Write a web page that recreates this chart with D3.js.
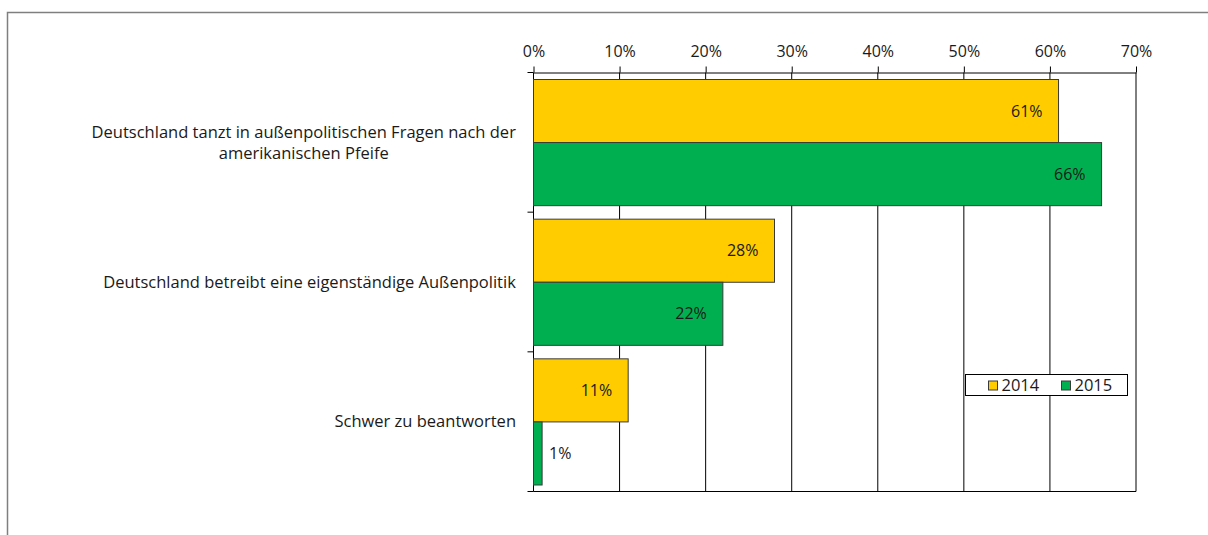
<!DOCTYPE html>
<html>
<head>
<meta charset="utf-8">
<script src="https://cdn.jsdelivr.net/npm/d3@7"></script>
<style>
  body { margin: 0; background: #fff; }
  svg { display: block; font-family: 'Open Sans', sans-serif; }
  text { fill: #1a1a1a; }
</style>
</head>
<body>
<svg id="chart"></svg>
<script>
const categories = [
  ['Deutschland tanzt in außenpolitischen Fragen nach der', 'amerikanischen Pfeife'],
  ['Deutschland betreibt eine eigenständige Außenpolitik'],
  ['Schwer zu beantworten']
]
const years = ['2014', '2015']
const values2014 = [61, 28, 11]
const values2015 = [66, 22, 1]
const ticks = [0, 10, 20, 30, 40, 50, 60, 70]
const colors = ['#ffcc00', '#00b050']

const width = 1208
const height = 535
const svg = d3.select('#chart').attr('width', width).attr('height', height)

// outer frame (only left and top show in the crop)
svg.append('path')
  .attr('d', `M7.5,${height} V12.5 H${width}`)
  .attr('fill', 'none')
  .attr('stroke', '#7f7f7f')
  .attr('stroke-width', 1.5)

const x = d3.scaleLinear().domain([0, 70]).range([533.5, 1136])
const y = d3.scaleBand().domain(d3.range(categories.length)).range([72.5, 491.5])

const rows = categories.map((c, i) => ({ label: c, vals: [values2014[i], values2015[i]] }))

// grid
svg.append('g').selectAll('line')
  .data(ticks.slice(1))
  .join('line')
  .attr('x1', d => x(d)).attr('x2', d => x(d))
  .attr('y1', y.range()[0]).attr('y2', y.range()[1])
  .attr('stroke', '#000').attr('stroke-width', 1)

// bottom line
svg.append('line')
  .attr('x1', x(0)).attr('x2', x(70))
  .attr('y1', y.range()[1]).attr('y2', y.range()[1])
  .attr('stroke', '#000')

// top axis
const xAxis = d3.axisTop(x).tickValues(ticks).tickFormat(d => d + '%').tickSize(6).tickSizeOuter(0)
const gx = svg.append('g').attr('transform', `translate(0,${y.range()[0]})`).call(xAxis)
gx.select('.domain').attr('stroke', '#000')
gx.selectAll('.tick line').attr('stroke', '#000')
gx.selectAll('.tick text')
  .attr('y', -16)
  .style('font-size', '16px')
  .style('font-family', "'Open Sans', sans-serif")
  .attr('fill', '#1a1a1a')

// left axis line + category ticks
svg.append('line')
  .attr('x1', x(0)).attr('x2', x(0))
  .attr('y1', y.range()[0]).attr('y2', y.range()[1])
  .attr('stroke', '#000')
svg.append('g').selectAll('line')
  .data(d3.range(categories.length + 1))
  .join('line')
  .attr('x1', x(0) - 6).attr('x2', x(0))
  .attr('y1', d => y.range()[0] + d * y.step())
  .attr('y2', d => y.range()[0] + d * y.step())
  .attr('stroke', '#000')

// bars
const inner = d3.scaleBand().domain([0, 1]).range([7, y.bandwidth() - 6.5])
const groups = svg.append('g').selectAll('g')
  .data(rows)
  .join('g')
  .attr('transform', (d, i) => `translate(0,${y(i)})`)

groups.selectAll('rect')
  .data(d => d.vals)
  .join('rect')
  .attr('x', x(0))
  .attr('y', (d, j) => inner(j))
  .attr('width', d => x(d) - x(0))
  .attr('height', inner.bandwidth())
  .attr('fill', (d, j) => colors[j])
  .attr('stroke', '#3a3a3a')
  .attr('stroke-width', 1)

groups.selectAll('text.val')
  .data(d => d.vals)
  .join('text')
  .attr('class', 'val')
  .attr('x', d => x(d) - x(0) > 40 ? x(d) - 16 : x(d) + 7)
  .attr('y', (d, j) => inner(j) + inner.bandwidth() / 2)
  .attr('dy', '0.35em')
  .attr('text-anchor', d => x(d) - x(0) > 40 ? 'end' : 'start')
  .style('font-size', '16px')
  .text(d => d + '%')

// category labels
groups.append('text')
  .attr('text-anchor', 'middle')
  .style('font-size', '16.5px')
  .each(function (d) {
    const t = d3.select(this)
    const n = d.label.length
    d.label.forEach((l, k) => {
      t.append('tspan')
        .attr('x', 0)
        .attr('y', y.bandwidth() / 2 + (k - (n - 1) / 2) * 21)
        .attr('dy', '0.35em')
        .text(l)
    })
  })
  .attr('transform', function () {
    const bb = this.getBBox()
    return `translate(${516 - bb.width / 2},0)`
  })

// legend
const lg = svg.append('g').attr('transform', 'translate(965.5,374.5)')
lg.append('rect').attr('width', 162).attr('height', 21).attr('fill', '#fff').attr('stroke', '#000')
const items = lg.selectAll('g').data(years).join('g')
  .attr('transform', (d, i) => `translate(${23 + i * 73},0)`)
items.append('rect')
  .attr('y', 6.5).attr('width', 9).attr('height', 9)
  .attr('fill', (d, i) => colors[i]).attr('stroke', '#3a3a3a')
items.append('text')
  .attr('x', 13).attr('y', 11).attr('dy', '0.35em')
  .style('font-size', '16.5px')
  .text(d => d)
</script>
</body>
</html>
